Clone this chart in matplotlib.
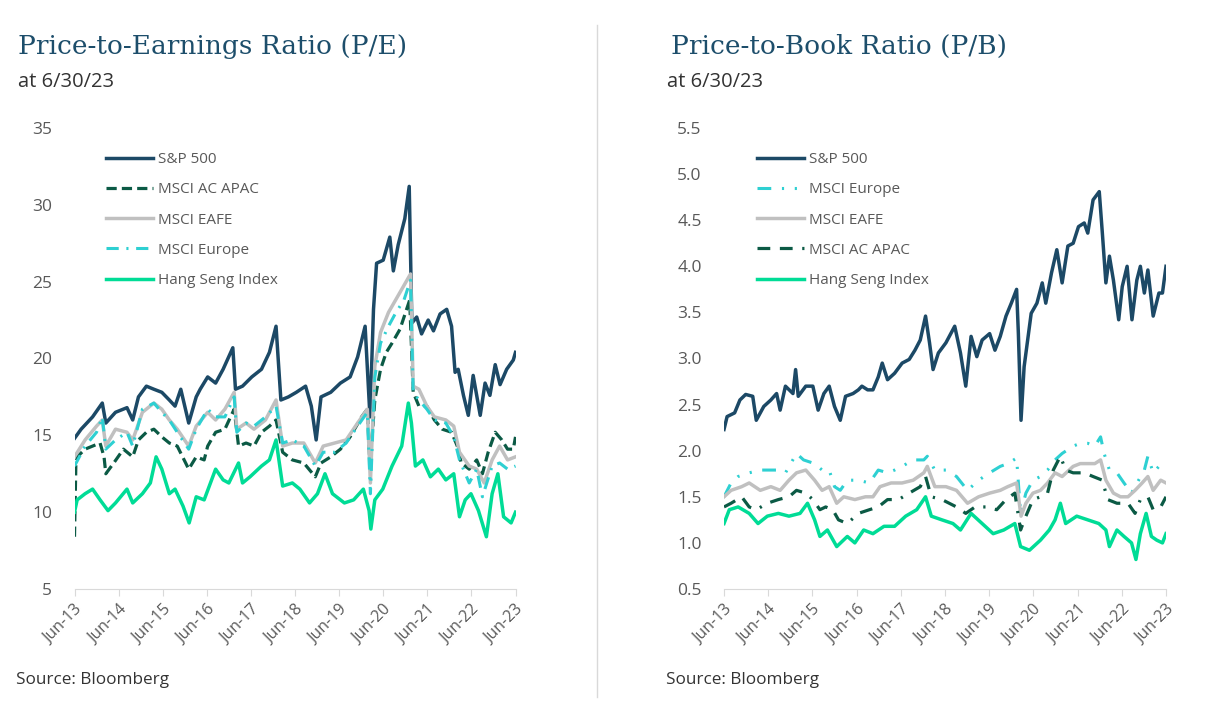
import matplotlib
matplotlib.use("Agg")
import matplotlib.pyplot as plt
from matplotlib.lines import Line2D

# readings: (decimal year, ratio)
pe_sp500 = [(2013.50, 14.8), (2013.65, 15.4), (2013.91, 16.2), (2014.13, 17.1), (2014.21, 15.8),
            (2014.43, 16.5), (2014.69, 16.8), (2014.82, 16.0), (2014.95, 17.5), (2015.13, 18.2),
            (2015.30, 18.0), (2015.48, 17.8), (2015.65, 17.3), (2015.78, 16.9), (2015.91, 18.0),
            (2016.09, 15.8), (2016.26, 17.5), (2016.35, 18.0), (2016.52, 18.8), (2016.70, 18.4),
            (2016.87, 19.3), (2017.09, 20.7), (2017.15, 18.0), (2017.31, 18.2), (2017.52, 18.8),
            (2017.74, 19.3), (2017.92, 20.4), (2018.07, 22.1), (2018.18, 17.3), (2018.35, 17.5),
            (2018.53, 17.8), (2018.74, 18.2), (2018.87, 16.9), (2018.98, 14.7), (2019.09, 17.5),
            (2019.31, 17.8), (2019.53, 18.4), (2019.75, 18.8), (2019.92, 20.1), (2020.09, 22.1),
            (2020.20, 16.2), (2020.28, 23.2), (2020.35, 26.2), (2020.50, 26.4), (2020.65, 27.9),
            (2020.73, 25.7), (2020.84, 27.4), (2020.99, 29.1), (2021.09, 31.2), (2021.15, 22.3),
            (2021.26, 22.7), (2021.37, 21.6), (2021.52, 22.5), (2021.64, 21.8), (2021.79, 22.9),
            (2021.94, 23.2), (2022.05, 22.1), (2022.13, 19.1), (2022.20, 19.3), (2022.32, 17.6),
            (2022.43, 16.3), (2022.54, 18.9), (2022.70, 16.3), (2022.81, 18.4), (2022.92, 17.6),
            (2023.04, 19.6), (2023.15, 18.3), (2023.30, 19.3), (2023.45, 19.9), (2023.50, 20.4)]
pe_apac = [(2013.50, 8.4), (2013.53, 13.0), (2013.56, 13.6), (2013.74, 14.1), (2013.91, 14.3),
           (2014.08, 14.5), (2014.17, 13.6), (2014.21, 12.5), (2014.39, 13.2), (2014.61, 14.1),
           (2014.82, 13.6), (2014.95, 14.7), (2015.13, 15.2), (2015.30, 15.4), (2015.48, 14.9),
           (2015.65, 14.5), (2015.83, 14.3), (2016.09, 12.8), (2016.26, 13.6), (2016.44, 13.4),
           (2016.52, 14.3), (2016.70, 15.2), (2016.91, 15.4), (2017.12, 16.7), (2017.22, 14.3),
           (2017.39, 14.5), (2017.57, 14.3), (2017.74, 15.2), (2017.92, 15.6), (2018.07, 16.0),
           (2018.22, 13.9), (2018.44, 13.4), (2018.70, 13.2), (2018.96, 12.3), (2019.09, 13.2),
           (2019.31, 13.6), (2019.53, 14.1), (2019.75, 14.9), (2020.01, 16.2), (2020.14, 16.7),
           (2020.20, 13.0), (2020.31, 17.3), (2020.44, 19.3), (2020.57, 20.4), (2020.70, 21.0),
           (2020.88, 21.9), (2021.10, 23.8), (2021.18, 17.8), (2021.31, 16.9), (2021.49, 16.9),
           (2021.66, 16.0), (2021.84, 15.4), (2022.05, 15.2), (2022.18, 14.3), (2022.27, 13.2),
           (2022.45, 12.8), (2022.62, 13.4), (2022.75, 12.5), (2022.88, 13.9), (2023.04, 15.2),
           (2023.19, 14.7), (2023.32, 14.1), (2023.45, 14.1), (2023.50, 14.9)]
pe_eafe = [(2013.50, 13.6), (2013.74, 14.7), (2014.00, 15.6), (2014.13, 16.0), (2014.21, 14.3),
           (2014.43, 15.4), (2014.69, 15.2), (2014.82, 14.7), (2015.04, 16.5), (2015.30, 17.1),
           (2015.48, 16.7), (2015.65, 16.0), (2015.83, 15.4), (2016.09, 14.3), (2016.26, 15.6),
           (2016.52, 16.5), (2016.70, 16.0), (2016.91, 16.7), (2017.12, 17.8), (2017.18, 15.4),
           (2017.39, 15.8), (2017.57, 15.4), (2017.83, 16.0), (2018.07, 17.3), (2018.22, 14.3),
           (2018.44, 14.5), (2018.70, 14.5), (2018.96, 13.2), (2019.14, 14.3), (2019.40, 14.5),
           (2019.66, 14.7), (2019.92, 15.8), (2020.14, 16.7), (2020.21, 11.9), (2020.31, 19.5),
           (2020.44, 21.7), (2020.62, 23.0), (2020.88, 24.3), (2021.12, 25.5), (2021.18, 18.2),
           (2021.31, 18.0), (2021.49, 16.9), (2021.66, 16.2), (2021.92, 16.0), (2022.10, 15.6),
           (2022.23, 13.9), (2022.45, 13.0), (2022.62, 12.8), (2022.79, 11.9), (2022.97, 13.4),
           (2023.14, 14.3), (2023.32, 13.4), (2023.50, 13.6)]
pe_europe = [(2013.50, 13.0), (2013.74, 14.3), (2014.00, 15.2), (2014.13, 16.2), (2014.21, 14.1),
             (2014.43, 14.7), (2014.69, 15.2), (2014.82, 14.3), (2015.04, 16.7), (2015.30, 17.1),
             (2015.48, 16.5), (2015.65, 16.0), (2015.83, 15.2), (2016.09, 14.1), (2016.26, 15.4),
             (2016.52, 16.7), (2016.70, 16.2), (2016.91, 16.2), (2017.12, 17.5), (2017.18, 15.2),
             (2017.39, 15.8), (2017.57, 15.6), (2017.83, 16.2), (2018.07, 16.9), (2018.22, 14.5),
             (2018.44, 14.7), (2018.70, 14.3), (2018.96, 13.0), (2019.14, 13.9), (2019.40, 13.9),
             (2019.66, 14.5), (2019.92, 15.6), (2020.14, 16.5), (2020.21, 11.2), (2020.31, 18.8),
             (2020.44, 21.0), (2020.62, 22.1), (2020.79, 23.0), (2020.97, 23.8), (2021.12, 25.1),
             (2021.18, 17.8), (2021.31, 17.3), (2021.49, 16.7), (2021.66, 16.0), (2021.92, 15.8),
             (2022.10, 14.9), (2022.23, 13.4), (2022.45, 11.9), (2022.62, 12.8), (2022.75, 11.0),
             (2022.97, 13.0), (2023.14, 13.2), (2023.32, 12.8), (2023.50, 13.0)]
pe_hang_seng = [(2013.50, 10.0), (2013.56, 10.8), (2013.74, 11.2), (2013.91, 11.5), (2014.08, 10.8),
                (2014.26, 10.1), (2014.43, 10.6), (2014.69, 11.5), (2014.82, 10.6), (2015.04, 11.2),
                (2015.22, 11.9), (2015.35, 13.6), (2015.48, 12.8), (2015.65, 11.2), (2015.78, 11.5),
                (2015.96, 10.4), (2016.10, 9.3), (2016.26, 11.0), (2016.44, 10.8), (2016.70, 12.8),
                (2016.87, 12.1), (2017.00, 11.9), (2017.22, 13.2), (2017.31, 11.9), (2017.48, 12.3),
                (2017.74, 13.0), (2017.92, 13.4), (2018.07, 14.7), (2018.22, 11.7), (2018.44, 11.9),
                (2018.61, 11.5), (2018.83, 10.6), (2019.01, 11.2), (2019.18, 12.5), (2019.35, 11.2),
                (2019.62, 10.6), (2019.83, 10.8), (2020.05, 11.5), (2020.18, 10.1), (2020.22, 8.9),
                (2020.31, 10.8), (2020.49, 11.5), (2020.70, 13.0), (2020.92, 14.3), (2021.07, 17.1),
                (2021.14, 15.8), (2021.23, 13.0), (2021.40, 13.4), (2021.57, 12.3), (2021.75, 12.8),
                (2021.92, 12.1), (2022.10, 12.5), (2022.23, 9.7), (2022.36, 10.8), (2022.49, 11.2),
                (2022.66, 10.1), (2022.84, 8.4), (2022.97, 11.2), (2023.10, 12.5), (2023.23, 9.7),
                (2023.40, 9.3), (2023.50, 10.0)]

pb_sp500 = [(2013.50, 2.23), (2013.57, 2.37), (2013.74, 2.41), (2013.86, 2.55), (2013.99, 2.61),
            (2014.15, 2.59), (2014.23, 2.33), (2014.40, 2.48), (2014.56, 2.55), (2014.69, 2.62),
            (2014.77, 2.44), (2014.89, 2.70), (2015.06, 2.62), (2015.12, 2.88), (2015.18, 2.59),
            (2015.35, 2.70), (2015.51, 2.70), (2015.63, 2.44), (2015.76, 2.62), (2015.88, 2.70),
            (2016.00, 2.48), (2016.13, 2.33), (2016.25, 2.59), (2016.42, 2.62), (2016.54, 2.66),
            (2016.62, 2.70), (2016.75, 2.66), (2016.87, 2.66), (2016.99, 2.80), (2017.08, 2.95),
            (2017.20, 2.77), (2017.36, 2.84), (2017.53, 2.95), (2017.69, 2.99), (2017.82, 3.09),
            (2017.94, 3.20), (2018.06, 3.46), (2018.15, 3.17), (2018.23, 2.88), (2018.35, 3.06),
            (2018.52, 3.17), (2018.72, 3.35), (2018.85, 3.06), (2018.97, 2.70), (2019.09, 3.24),
            (2019.22, 3.02), (2019.34, 3.20), (2019.51, 3.27), (2019.63, 3.09), (2019.75, 3.24),
            (2019.88, 3.46), (2020.00, 3.60), (2020.12, 3.75), (2020.16, 3.27), (2020.22, 2.33),
            (2020.29, 2.91), (2020.37, 3.20), (2020.45, 3.49), (2020.58, 3.60), (2020.70, 3.82),
            (2020.78, 3.60), (2020.91, 3.93), (2021.03, 4.18), (2021.15, 3.82), (2021.28, 4.22),
            (2021.40, 4.25), (2021.52, 4.43), (2021.65, 4.47), (2021.73, 4.36), (2021.85, 4.72),
            (2021.99, 4.81), (2022.06, 4.36), (2022.14, 3.82), (2022.22, 4.11), (2022.31, 3.85),
            (2022.43, 3.42), (2022.51, 3.78), (2022.62, 4.00), (2022.73, 3.42), (2022.84, 3.85),
            (2022.92, 4.00), (2023.01, 3.71), (2023.09, 3.96), (2023.21, 3.46), (2023.34, 3.71),
            (2023.42, 3.71), (2023.50, 4.00)]
pb_europe = [(2013.50, 1.50), (2013.66, 1.65), (2013.82, 1.72), (2014.07, 1.76), (2014.32, 1.79),
             (2014.48, 1.79), (2014.73, 1.79), (2014.89, 1.76), (2015.14, 1.97), (2015.30, 1.90),
             (2015.55, 1.86), (2015.72, 1.79), (2015.88, 1.79), (2016.00, 1.61), (2016.13, 1.57),
             (2016.29, 1.68), (2016.54, 1.68), (2016.79, 1.65), (2016.99, 1.79), (2017.20, 1.76),
             (2017.36, 1.79), (2017.53, 1.83), (2017.78, 1.90), (2018.02, 1.90), (2018.10, 1.94),
             (2018.27, 1.79), (2018.52, 1.79), (2018.76, 1.72), (2019.01, 1.57), (2019.26, 1.68),
             (2019.51, 1.76), (2019.75, 1.83), (2019.92, 1.86), (2020.12, 1.92), (2020.21, 1.32),
             (2020.33, 1.54), (2020.49, 1.68), (2020.66, 1.72), (2020.82, 1.79), (2020.99, 1.90),
             (2021.15, 1.97), (2021.40, 2.05), (2021.56, 2.08), (2021.73, 2.08), (2021.89, 2.05),
             (2022.02, 2.15), (2022.10, 1.97), (2022.22, 1.79), (2022.39, 1.76), (2022.55, 1.65),
             (2022.72, 1.54), (2022.88, 1.68), (2023.01, 1.79), (2023.09, 1.94), (2023.21, 1.76),
             (2023.34, 1.83), (2023.50, 1.83)]
pb_eafe = [(2013.50, 1.50), (2013.66, 1.57), (2013.90, 1.61), (2014.07, 1.65), (2014.32, 1.57),
           (2014.56, 1.61), (2014.77, 1.57), (2014.97, 1.68), (2015.14, 1.76), (2015.35, 1.79),
           (2015.55, 1.68), (2015.72, 1.57), (2015.88, 1.61), (2016.05, 1.43), (2016.21, 1.50),
           (2016.46, 1.47), (2016.70, 1.50), (2016.87, 1.50), (2017.03, 1.61), (2017.28, 1.65),
           (2017.53, 1.65), (2017.78, 1.68), (2018.02, 1.76), (2018.10, 1.83), (2018.27, 1.61),
           (2018.52, 1.61), (2018.76, 1.57), (2019.01, 1.43), (2019.26, 1.50), (2019.51, 1.54),
           (2019.75, 1.57), (2019.92, 1.61), (2020.12, 1.65), (2020.22, 1.29), (2020.33, 1.43),
           (2020.49, 1.54), (2020.66, 1.57), (2020.82, 1.65), (2020.99, 1.76), (2021.15, 1.72),
           (2021.40, 1.83), (2021.56, 1.86), (2021.73, 1.86), (2021.89, 1.86), (2022.02, 1.90),
           (2022.14, 1.68), (2022.31, 1.54), (2022.47, 1.50), (2022.64, 1.50), (2022.80, 1.57),
           (2022.96, 1.65), (2023.09, 1.72), (2023.21, 1.57), (2023.38, 1.68), (2023.50, 1.65)]
pb_apac = [(2013.50, 1.39), (2013.66, 1.43), (2013.90, 1.50), (2014.07, 1.39), (2014.23, 1.36),
           (2014.48, 1.43), (2014.73, 1.47), (2014.97, 1.50), (2015.14, 1.57), (2015.35, 1.54),
           (2015.51, 1.47), (2015.67, 1.36), (2015.80, 1.39), (2015.96, 1.36), (2016.09, 1.25),
           (2016.29, 1.21), (2016.54, 1.32), (2016.79, 1.36), (2016.99, 1.39), (2017.20, 1.47),
           (2017.45, 1.47), (2017.69, 1.54), (2017.94, 1.61), (2018.06, 1.72), (2018.19, 1.50),
           (2018.43, 1.47), (2018.76, 1.39), (2018.97, 1.32), (2019.18, 1.39), (2019.42, 1.39),
           (2019.67, 1.36), (2019.88, 1.47), (2020.08, 1.54), (2020.21, 1.14), (2020.33, 1.29),
           (2020.49, 1.47), (2020.66, 1.50), (2020.82, 1.54), (2020.95, 1.79), (2021.11, 1.94),
           (2021.23, 1.79), (2021.40, 1.76), (2021.65, 1.76), (2021.85, 1.72), (2022.06, 1.68),
           (2022.18, 1.47), (2022.39, 1.43), (2022.64, 1.43), (2022.80, 1.32), (2022.92, 1.47),
           (2023.09, 1.50), (2023.21, 1.36), (2023.38, 1.39), (2023.50, 1.50)]
pb_hang_seng = [(2013.50, 1.21), (2013.62, 1.36), (2013.82, 1.39), (2014.07, 1.32), (2014.27, 1.21),
                (2014.48, 1.29), (2014.73, 1.32), (2014.97, 1.29), (2015.22, 1.32), (2015.39, 1.43),
                (2015.55, 1.25), (2015.67, 1.07), (2015.84, 1.14), (2016.05, 0.96), (2016.29, 1.07),
                (2016.46, 1.00), (2016.66, 1.14), (2016.87, 1.10), (2017.12, 1.18), (2017.36, 1.18),
                (2017.61, 1.29), (2017.86, 1.36), (2018.06, 1.50), (2018.19, 1.29), (2018.43, 1.25),
                (2018.68, 1.21), (2018.85, 1.14), (2019.09, 1.32), (2019.34, 1.21), (2019.59, 1.10),
                (2019.83, 1.14), (2020.08, 1.21), (2020.21, 0.96), (2020.41, 0.92), (2020.66, 1.03),
                (2020.86, 1.14), (2020.99, 1.25), (2021.11, 1.43), (2021.23, 1.21), (2021.48, 1.29),
                (2021.73, 1.25), (2021.98, 1.21), (2022.14, 1.14), (2022.22, 0.96), (2022.39, 1.14),
                (2022.55, 1.07), (2022.72, 1.00), (2022.82, 0.82), (2022.92, 1.10), (2023.05, 1.32),
                (2023.17, 1.07), (2023.29, 1.03), (2023.42, 1.00), (2023.50, 1.10)]

tick_years = [2013.5 + i for i in range(11)]
tick_labels = ['Jun-13', 'Jun-14', 'Jun-15', 'Jun-16', 'Jun-17', 'Jun-18',
               'Jun-19', 'Jun-20', 'Jun-21', 'Jun-22', 'Jun-23']
pe_ticks = [5, 10, 15, 20, 25, 30, 35]
pb_ticks = [0.5, 1.0, 1.5, 2.0, 2.5, 3.0, 3.5, 4.0, 4.5, 5.0, 5.5]

NAVY = '#1c4966'
DKGREEN = '#0b5a45'
GRAY = '#c0c0c0'
CYAN = '#2ed0d2'
GREEN = '#00dc96'
TXT = '#595959'

plt.rcParams['font.family'] = ['Open Sans', 'DejaVu Sans']

W, H = 1208, 716
fig = plt.figure(figsize=(W / 100, H / 100), dpi=100)


def setup(ax, yticks, fmt):
    ax.set_xlim(tick_years[0], tick_years[-1])
    ax.set_ylim(yticks[0], yticks[-1])
    for s in ['top', 'right', 'left']:
        ax.spines[s].set_visible(False)
    ax.spines['bottom'].set_color('#d9d9d9')
    ax.set_xticks(tick_years)
    ax.set_xticklabels(tick_labels, rotation=45, ha='right', rotation_mode='anchor')
    ax.set_yticks(yticks)
    ax.set_yticklabels([fmt.format(v) for v in yticks])
    ax.tick_params(axis='y', length=0, pad=16, labelsize=12.5, labelcolor=TXT)
    ax.tick_params(axis='x', length=5, color='#d9d9d9', pad=4, labelsize=11.5, labelcolor=TXT)


def draw(ax, data, **kw):
    xs = [p[0] for p in data]
    ys = [p[1] for p in data]
    ax.plot(xs, ys, solid_joinstyle='round', dash_capstyle='butt', **kw)


ax1 = fig.add_axes([74.5 / W, 1 - 589 / H, 441 / W, 461 / H])
setup(ax1, pe_ticks, '{:g}')
draw(ax1, pe_sp500, color=NAVY, lw=2.5, label='S&P 500')
draw(ax1, pe_apac, color=DKGREEN, lw=2.3, dashes=(3.2, 1.6), label='MSCI AC APAC')
draw(ax1, pe_eafe, color=GRAY, lw=2.5, label='MSCI EAFE')
draw(ax1, pe_europe, color=CYAN, lw=2.2, dashes=(4, 2.5, 0.7, 2.5), label='MSCI Europe')
draw(ax1, pe_hang_seng, color=GREEN, lw=2.5, label='Hang Seng Index')

ax2 = fig.add_axes([724 / W, 1 - 589 / H, 442 / W, 461 / H])
setup(ax2, pb_ticks, '{:.1f}')
draw(ax2, pb_sp500, color=NAVY, lw=2.5, label='S&P 500')
draw(ax2, pb_europe, color=CYAN, lw=2.2, dashes=(4.5, 3.5, 0.7, 3.5, 0.7, 3.5), label='MSCI Europe')
draw(ax2, pb_eafe, color=GRAY, lw=2.5, label='MSCI EAFE')
draw(ax2, pb_apac, color=DKGREEN, lw=2.3, dashes=(4, 3, 4, 3, 0.7, 3), label='MSCI AC APAC')
draw(ax2, pb_hang_seng, color=GREEN, lw=2.5, label='Hang Seng Index')

for ax, lx in [(ax1, 106), (ax2, 757)]:
    ax.legend(loc='upper left', bbox_to_anchor=(lx / W, 1 - 152 / H), bbox_transform=fig.transFigure,
              frameon=False, fontsize=11, labelcolor=TXT, handlelength=3.1, handletextpad=0.3,
              labelspacing=1.0, borderpad=0, borderaxespad=0)

# titles and notes
TITLE = '#1d4e6b'
fig.text(18 / W, 1 - 54 / H, 'Price-to-Earnings Ratio (P/E)', family='DejaVu Serif',
         fontsize=19, color=TITLE)
fig.text(671 / W, 1 - 54 / H, 'Price-to-Book Ratio (P/B)', family='DejaVu Serif',
         fontsize=19, color=TITLE)
fig.text(18 / W, 1 - 87 / H, 'at 6/30/23', fontsize=14.5, color='#333333')
fig.text(667 / W, 1 - 87 / H, 'at 6/30/23', fontsize=14.5, color='#333333')
fig.text(16 / W, 1 - 684 / H, 'Source: Bloomberg', fontsize=12.3, color='#333333')
fig.text(666 / W, 1 - 684 / H, 'Source: Bloomberg', fontsize=12.3, color='#333333')

fig.add_artist(Line2D([597 / W, 597 / W], [1 - 25 / H, 1 - 697 / H], color='#d9d9d9', lw=1))

fig.savefig('out.png', dpi=100)
